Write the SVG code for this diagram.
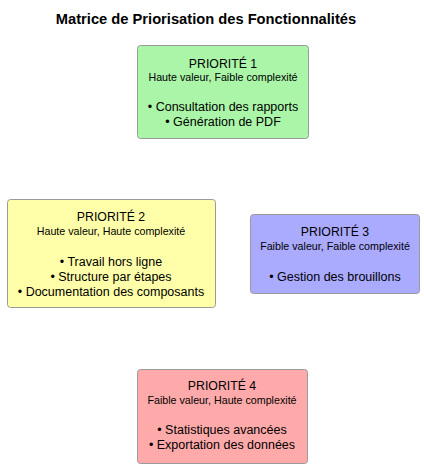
<svg xmlns="http://www.w3.org/2000/svg" width="424" height="467" viewBox="0 0 424 467">
<style>
text{font-family:"Liberation Sans",Arial,sans-serif;fill:#000;text-anchor:middle}
.title{font-size:14.7px;font-weight:bold}
.h{font-size:12.3px}
.s{font-size:10.7px}
.b{font-size:12.5px}
.box{stroke:#9a9a9a;stroke-width:1}
</style>
<rect width="424" height="467" fill="#fff"/>
<text class="title" x="206" y="24">Matrice de Priorisation des Fonctionnalités</text>
<g id="connectors"/>
<g id="p1">
<rect class="box" x="137.5" y="45.5" width="171" height="93" rx="3" fill="#aaf5a8"/>
<text class="h" x="223" y="68">PRIORITÉ 1</text>
<text class="s" x="223" y="81">Haute valeur, Faible complexité</text>
<text class="b" x="223" y="111">• Consultation des rapports</text>
<text class="b" x="223" y="126">• Génération de PDF</text>
</g>
<g id="p2">
<rect class="box" x="7.5" y="199.5" width="208" height="108" rx="3" fill="#ffffaa"/>
<text class="h" x="111" y="221">PRIORITÉ 2</text>
<text class="s" x="111" y="235">Haute valeur, Haute complexité</text>
<text class="b" x="111" y="266">• Travail hors ligne</text>
<text class="b" x="111" y="281">• Structure par étapes</text>
<text class="b" x="111" y="296">• Documentation des composants</text>
</g>
<g id="p3">
<rect class="box" x="250.5" y="214.5" width="169" height="79" rx="3" fill="#aaaaff"/>
<text class="h" x="335" y="236">PRIORITÉ 3</text>
<text class="s" x="335" y="250">Faible valeur, Faible complexité</text>
<text class="b" x="335" y="281">• Gestion des brouillons</text>
</g>
<g id="p4">
<rect class="box" x="137.5" y="369.5" width="170" height="94" rx="3" fill="#ffaaaa"/>
<text class="h" x="222" y="390">PRIORITÉ 4</text>
<text class="s" x="222" y="404">Faible valeur, Haute complexité</text>
<text class="b" x="222" y="434">• Statistiques avancées</text>
<text class="b" x="222" y="449">• Exportation des données</text>
</g>
</svg>
